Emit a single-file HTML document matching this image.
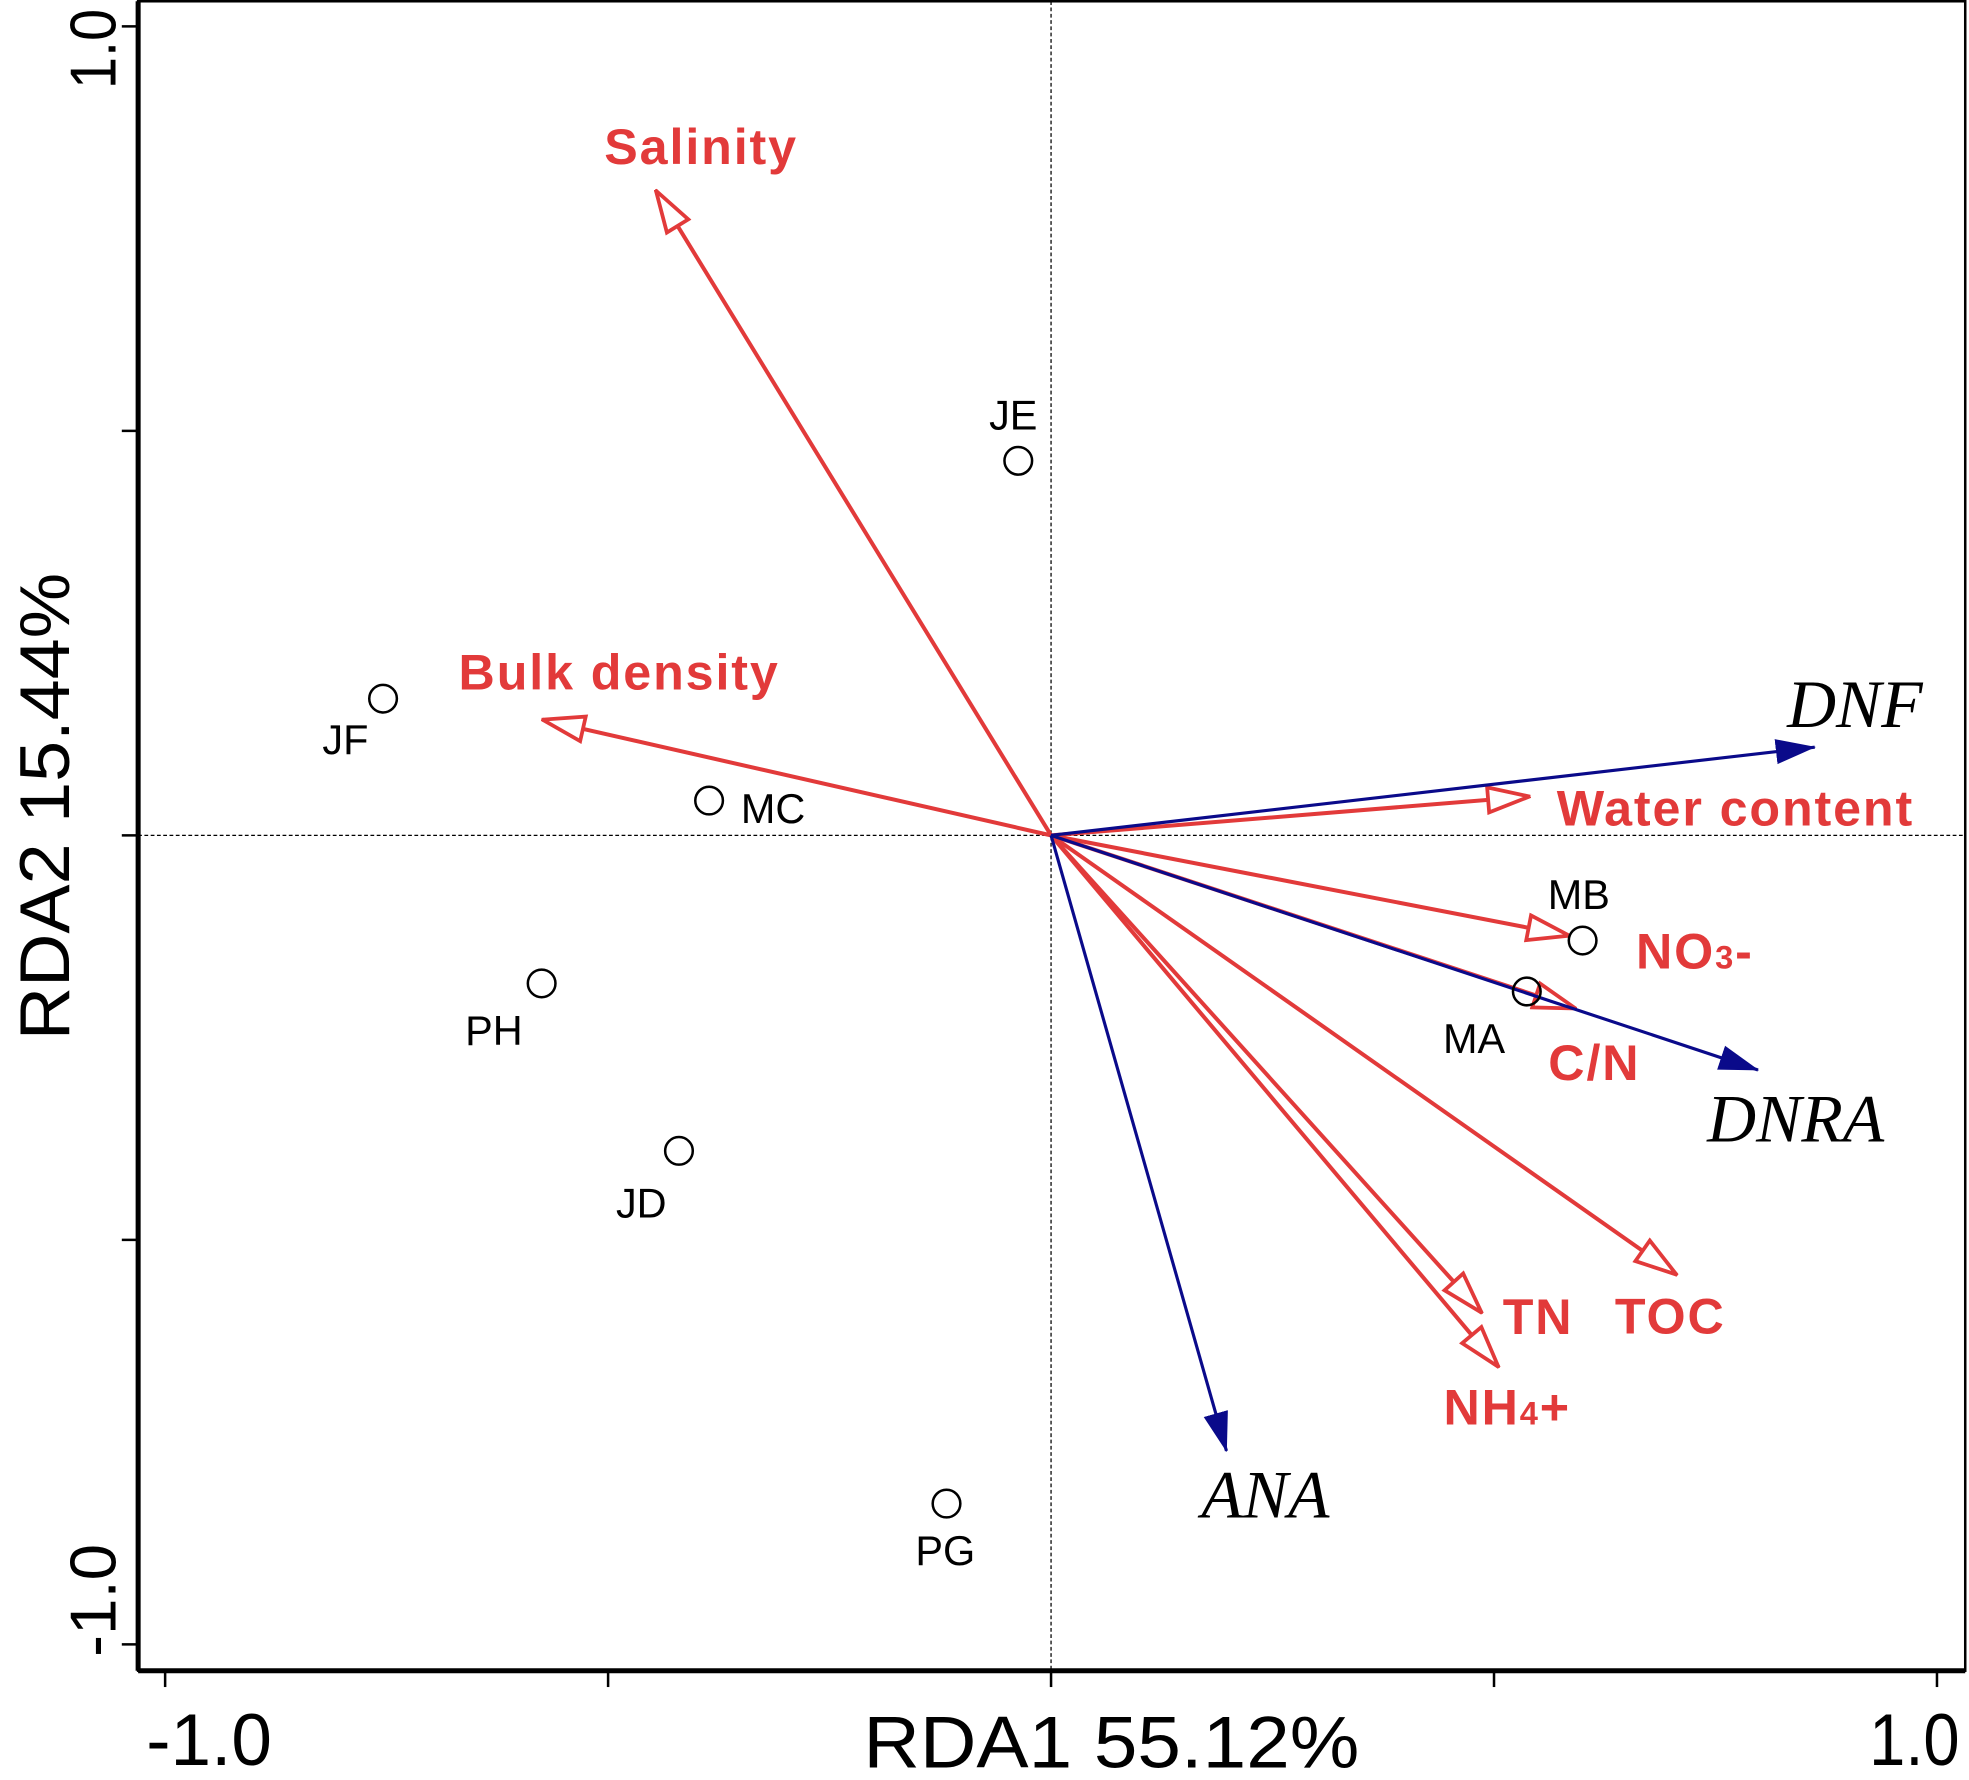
<!DOCTYPE html>
<html><head><meta charset="utf-8"><style>
html,body{margin:0;padding:0;background:#fff;}
svg{display:block;}
</style></head><body>
<svg id="chart" width="1969" height="1780" viewBox="0 0 1568 1417" preserveAspectRatio="none" xmlns="http://www.w3.org/2000/svg">
<defs>
<marker id="openHead" viewBox="0 0 36 24" refX="35" refY="12" markerWidth="36" markerHeight="24" markerUnits="userSpaceOnUse" orient="auto">
<path d="M2,2 L35,12 L2,22 Z" fill="#fff" stroke="#e23a3a" stroke-width="3"/>
</marker>
<marker id="fillHead" viewBox="0 0 32 22" refX="31" refY="11" markerWidth="32" markerHeight="22" markerUnits="userSpaceOnUse" orient="auto">
<path d="M0,1 L32,11 L0,21 Z" fill="#0a0a8a"/>
</marker>
</defs>
<g id="layer"></g>
</svg>
<script>
// data
const xTicks = [-1, -0.5, 0, 0.5, 1];
const yTicks = [-1, -0.5, 0, 0.5, 1];
const xTickLabels = ['-1.0', '', '', '', '1.0'];
const yTickLabels = ['-1.0', '', '', '', '1.0'];
const siteNames = ['JE','JF','MC','PH','JD','PG','MB','MA'];
const siteX = [-0.037,-0.754,-0.386,-0.575,-0.420,-0.118,0.600,0.537];
const siteY = [0.463,0.169,0.043,-0.183,-0.390,-0.826,-0.130,-0.193];
const envNames = ['Salinity','Bulk density','Water content','NO3-','C/N','TOC','TN','NH4+'];
const envX = [-0.446,-0.574,0.540,0.585,0.592,0.706,0.486,0.505];
const envY = [0.797,0.143,0.048,-0.124,-0.214,-0.543,-0.590,-0.657];
const spNames = ['DNF','DNRA','ANA'];
const spX = [0.862,0.798,0.198];
const spY = [0.109,-0.290,-0.761];

// layout (style, not data)
const X0=837, XU=705.5, Y0=665, YU=644;
const sx = v => X0 + v*XU;
const sy = v => Y0 - v*YU;
const siteLabelOff = {JE:[-4,-37],JF:[-30,32],MC:[51,6],PH:[-38,37],JD:[-30,41],PG:[-1,37],MB:[-3,-37],MA:[-42,37]};
const envLabelOff = {'Salinity':[36,-35],'Bulk density':[61,-38],'Water content':[164,9],'NO3-':[100,12],'C/N':[15,43],'TOC':[-5,33],'TN':[45,3],'NH4+':[7,32]};
const spLabelOff = {'DNF':[32,-32],'DNRA':[30,41],'ANA':[31,37]};

const NS='http://www.w3.org/2000/svg';
const g=document.getElementById('layer');
function mk(tag, attrs, parent){const e=document.createElementNS(NS,tag);for(const k in attrs)e.setAttribute(k,attrs[k]);(parent||g).appendChild(e);return e;}

// frame
let e=mk('rect',{x:110,y:1,width:1455,height:1329,fill:'none',stroke:'#000','stroke-width':2});


e=mk('line',{x1:110,y1:1,x2:110,y2:1330,stroke:'#000','stroke-width':4});


e=mk('line',{x1:110,y1:1330,x2:1565,y2:1330,stroke:'#000','stroke-width':4});


// zero lines
e=mk('line',{x1:sx(0),y1:1,x2:sx(0),y2:1330,stroke:'#000','stroke-width':1,'stroke-dasharray':'3,2'});


e=mk('line',{x1:110,y1:sy(0),x2:1565,y2:sy(0),stroke:'#000','stroke-width':1,'stroke-dasharray':'3,2'});



// ticks
xTicks.forEach((t,i)=>{
  let l=mk('line',{x1:sx(t),y1:1330,x2:sx(t),y2:1343,stroke:'#000','stroke-width':2});
  
  
  if(xTickLabels[i]){
    const len = xTickLabels[i].length>3?100:72;
    const cx = i===0 ? sx(t)+35 : sx(t)-18;
    let tx=mk('text',{x:cx,y:1405,'text-anchor':'middle','font-family':'Liberation Sans, sans-serif','font-size':58,fill:'#000',textLength:len,lengthAdjust:'spacingAndGlyphs'});
    tx.textContent=xTickLabels[i];
    
    
  }
});
yTicks.forEach((t,i)=>{
  let l=mk('line',{x1:97,y1:sy(t),x2:110,y2:sy(t),stroke:'#000','stroke-width':2});
  
  
  if(yTickLabels[i]){
    const len = yTickLabels[i].length>3?90:64;
    const cy = i===0 ? sy(t)-35 : sy(t)+18;
    let tx=mk('text',{x:0,y:0,'text-anchor':'middle','font-family':'Liberation Sans, sans-serif','font-size':52,fill:'#000',textLength:len,lengthAdjust:'spacingAndGlyphs',transform:`translate(92,${cy}) rotate(-90)`});
    tx.textContent=yTickLabels[i];
    
    
  }
});
e=mk('text',{x:885,y:1407,'text-anchor':'middle','font-family':'Liberation Sans, sans-serif','font-size':58,fill:'#000',textLength:395,lengthAdjust:'spacingAndGlyphs'});
e.textContent='RDA1  55.12%';


e=mk('text',{x:0,y:0,'text-anchor':'middle','font-family':'Liberation Sans, sans-serif','font-size':56,fill:'#000',textLength:372,lengthAdjust:'spacingAndGlyphs',transform:'translate(55,642) rotate(-90)'});
e.textContent='RDA2  15.44%';



// env arrows
envNames.forEach((n,i)=>{
  let a=mk('line',{x1:sx(0),y1:sy(0),x2:sx(envX[i]),y2:sy(envY[i]),stroke:'#e23a3a','stroke-width':3.2,'marker-end':'url(#openHead)'});
  
  
});
// species arrows
spNames.forEach((n,i)=>{
  let a=mk('line',{x1:sx(0),y1:sy(0),x2:sx(spX[i]),y2:sy(spY[i]),stroke:'#0a0a8a','stroke-width':2.5,'marker-end':'url(#fillHead)'});
  
  
});
// env labels
envNames.forEach((n,i)=>{
  const o=envLabelOff[n]||[0,0];
  let t=mk('text',{x:sx(envX[i])+o[0],y:sy(envY[i])+o[1]+14,'text-anchor':'middle','font-family':'Liberation Sans, sans-serif','font-weight':'bold','font-size':40,fill:'#e23a3a','letter-spacing':1.5});
  if(n==='NO3-'){t.innerHTML='NO<tspan font-size="26">3</tspan>-';}
  else if(n==='NH4+'){t.innerHTML='NH<tspan font-size="26">4</tspan>+';}
  else t.textContent=n;
  
  
});
// species labels
spNames.forEach((n,i)=>{
  const o=spLabelOff[n];
  let t=mk('text',{x:sx(spX[i])+o[0],y:sy(spY[i])+o[1]+16,'text-anchor':'middle','font-family':'Liberation Serif, serif','font-style':'italic','font-size':54,fill:'#000'});
  t.textContent=n;
  
  
});
// sites
siteNames.forEach((n,i)=>{
  let c=mk('circle',{cx:sx(siteX[i]),cy:sy(siteY[i]),r:11,fill:'none',stroke:'#000','stroke-width':2});
  
  
  const o=siteLabelOff[n];
  let t=mk('text',{x:sx(siteX[i])+o[0],y:sy(siteY[i])+o[1]+12,'text-anchor':'middle','font-family':'Liberation Sans, sans-serif','font-size':33,fill:'#000'});
  t.textContent=n;
  
  
});
</script>
</body></html>
